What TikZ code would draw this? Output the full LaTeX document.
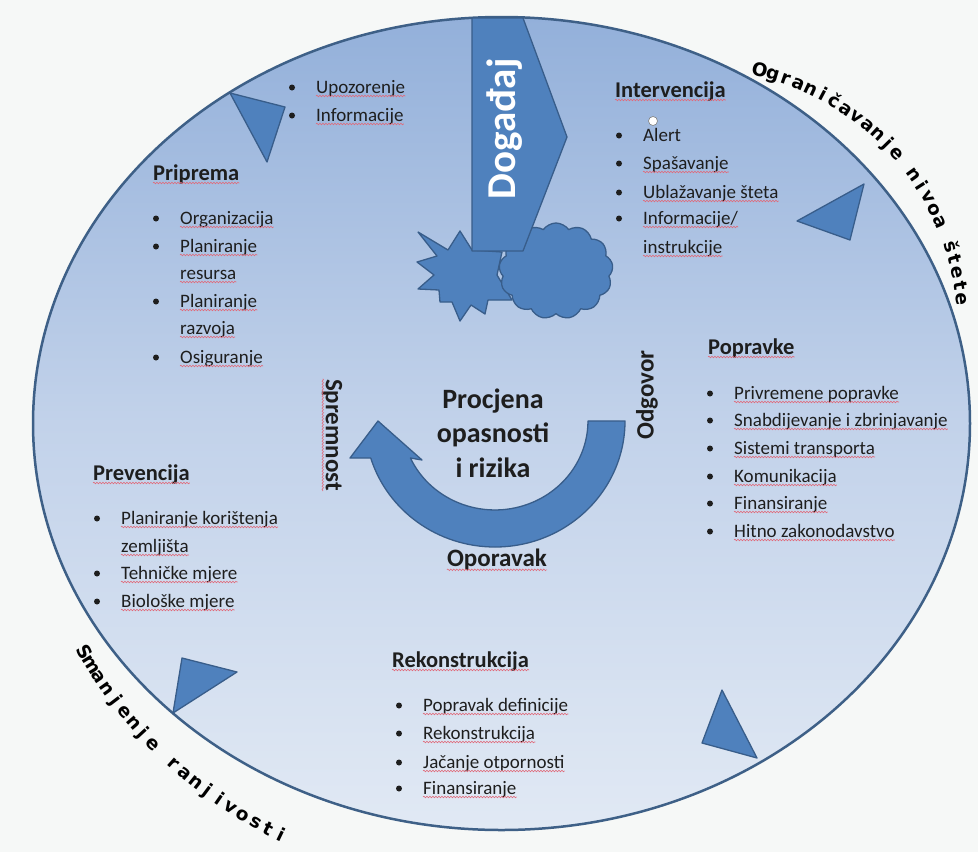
\documentclass[tikz,border=0pt]{standalone}
\usepackage{fontspec}
\setmainfont{Carlito}
\newfontfamily\arcfont{DejaVu Sans}
\usetikzlibrary{shapes.symbols,decorations.pathmorphing,calc}
\definecolor{bgcol}{HTML}{F6F8F7}
\definecolor{ellTop}{HTML}{93B0DA}
\definecolor{ellMid}{HTML}{C2D2EA}
\definecolor{ellBot}{HTML}{E1E9F4}
\definecolor{ellLine}{HTML}{3E6087}
\definecolor{shapefill}{HTML}{4F81BD}
\definecolor{shapeline}{HTML}{385D8A}
\definecolor{txt}{HTML}{1E1E1E}
\definecolor{squigcol}{HTML}{E06A7A}
\tikzset{
  item/.style={anchor=base west, inner sep=0pt, font=\fontsize{19}{23}\selectfont, text=txt},
  head/.style={anchor=base west, inner sep=0pt, font=\fontsize{22.5}{27}\selectfont\bfseries, text=txt},
  lbl/.style={inner sep=0pt, font=\fontsize{25}{30}\selectfont\bfseries, text=txt},
  shp/.style={fill=shapefill, draw=shapeline, line width=1.3pt, line join=round},
  squig/.style={draw=squigcol, line width=0.6pt, decorate, decoration={snake, amplitude=0.8pt, segment length=3pt}},
  arcch/.style={inner sep=0pt, anchor=base, font=\arcfont\bfseries\fontsize{18.5}{22}\selectfont, text=black},
}
\newcommand\mybul[1]{\fill[txt] ($(#1.base west)+(-24,-5.5)$) circle[radius=3];}
\newcommand\mysq[1]{\draw[squig] ($(#1.base west)!3pt!-90:(#1.base east)$) -- ($(#1.base east)!3pt!90:(#1.base west)$);}
\begin{document}
\begin{tikzpicture}[x=1pt,y=-1pt]
\useasboundingbox (0,0) rectangle (978,852);
\fill[bgcol] (0,0) rectangle (978,852);
% main ellipse
\draw[ellLine, line width=2.5pt, top color=ellTop, bottom color=ellBot, middle color=ellMid]
  (501.5,423.5) ellipse[x radius=468.5, y radius=406.5];
% triangles
\draw[shp] (230,93) -- (285,107) -- (267,162) -- cycle;
\draw[shp] (797,221) -- (864,184) -- (850,240) -- cycle;
\draw[shp] (173,713) -- (182,658) -- (237,672) -- cycle;
\draw[shp] (722,690) -- (757,758) -- (702,743) -- cycle;
% burst, cloud, event arrow
\draw[shp] (418,232) -- (448,250) -- (460,231) -- (472,250) -- (502,252) -- (497,275) -- (512,300) -- (488,300) -- (485,314) -- (471,305) -- (460,321) -- (452,302) -- (440,302) -- (439,290) -- (418,289) -- (434,275) -- (417,262) -- (437,256) -- cycle;
\node[cloud, shp, cloud puffs=13, cloud puff arc=110, aspect=1.2, minimum width=114, minimum height=96, inner sep=0pt] (cl) at (556,271) {};
\draw[shp] (472,18) -- (523,18) -- (567,137) -- (523,251) -- (472,251) -- cycle;
\node[rotate=90, text=white, inner sep=0pt, font=\fontsize{41}{41}\selectfont\bfseries] (dg) at (505,129) {Događaj};
% curved arrow
\draw[shp] (625,421) arc[start angle=0, end angle=162.9, x radius=130, y radius=126] -- (350,458) -- (378,421) -- (422,460) -- (410.4,458) arc[start angle=155.4, end angle=0, x radius=93, y radius=89] -- cycle;
\node[inner sep=0pt, align=center, font=\fontsize{28}{34.5}\selectfont\bfseries, text=txt] (ce) at (493,433) {Procjena\\opasnosti\\i rizika};
\node[lbl, rotate=-90] (sp) at (332,435) {Spremnost};
\node[lbl, rotate=90] (od) at (647,395) {Odgovor};
\node[lbl] (op) at (497,560) {Oporavak};
% small marker
\draw[gray, fill=white, line width=0.6pt] (653,121) circle[radius=4.5];
% lists
\node[item] (up1) at (316,93) {Upozorenje};
\node[item] (up2) at (316,121) {Informacije};
\node[head] (pr) at (153,180) {Priprema};
\node[item] (pr1) at (180,224) {Organizacija};
\node[item] (pr2) at (180,252) {Planiranje};
\node[item] (pr3) at (180,279) {resursa};
\node[item] (pr4) at (180,307) {Planiranje};
\node[item] (pr5) at (180,334) {razvoja};
\node[item] (pr6) at (180,363) {Osiguranje};
\node[head] (iv) at (615,97) {Intervencija};
\node[item] (iv1) at (643,141) {Alert};
\node[item] (iv2) at (643,169) {Spašavanje};
\node[item] (iv3) at (643,198) {Ublažavanje šteta};
\node[item] (iv4) at (643,224) {Informacije/};
\node[item] (iv5) at (643,253) {instrukcije};
\node[head] (po) at (708,354) {Popravke};
\node[item] (po1) at (734,399) {Privremene popravke};
\node[item] (po2) at (734,426) {Snabdijevanje i zbrinjavanje};
\node[item] (po3) at (734,454) {Sistemi transporta};
\node[item] (po4) at (734,482) {Komunikacija};
\node[item] (po5) at (734,509) {Finansiranje};
\node[item] (po6) at (734,537) {Hitno zakonodavstvo};
\node[head] (pv) at (93,480) {Prevencija};
\node[item] (pv1) at (121,524) {Planiranje korištenja};
\node[item] (pv2) at (121,552) {zemljišta};
\node[item] (pv3) at (121,579) {Tehničke mjere};
\node[item] (pv4) at (121,607) {Biološke mjere};
\node[head] (rk) at (392,667) {Rekonstrukcija};
\node[item] (rk1) at (423,711) {Popravak definicije};
\node[item] (rk2) at (423,739) {Rekonstrukcija};
\node[item] (rk3) at (423,768) {Jačanje otpornosti};
\node[item] (rk4) at (423,794) {Finansiranje};
\foreach \n in {up1,up2,pr1,pr2,pr4,pr6,iv1,iv2,iv3,iv4,po1,po2,po3,po4,po5,po6,pv1,pv3,pv4,rk1,rk2,rk3,rk4} {\mybul{\n}}
\foreach \n in {up1,up2,pr,pr1,pr2,pr3,pr4,pr5,pr6,iv,iv2,iv3,iv4,iv5,po,po1,po2,po3,po4,po5,po6,pv,pv1,pv2,pv3,pv4,rk,rk1,rk2,rk3,rk4,sp,op} {\mysq{\n}}
% curved outer texts
\foreach \ch [count=\i from 0] in {O,g,r,a,n,i,č,a,v,a,n,j,e,{},n,i,v,o,a,{},š,t,e,t,e} {
  \pgfmathsetmacro\ang{-76.4+\i*2.91}
  \pgfmathsetmacro\rot{-\ang-90}
  \node[arcch, rotate=\rot] (ua\i) at ($(697,330)+(\ang:261)$) {\ch};
}
\foreach \ch [count=\i from 0] in {S,m,a,n,j,e,n,j,e,{},r,a,n,j,i,v,o,s,t,i} {
  \pgfmathsetmacro\ang{149.9-\i*1.795}
  \pgfmathsetmacro\rot{90-\ang}
  \node[arcch, rotate=\rot] (la\i) at ($(481,422)+(\ang:465)$) {\ch};
}
\end{tikzpicture}
\end{document}
